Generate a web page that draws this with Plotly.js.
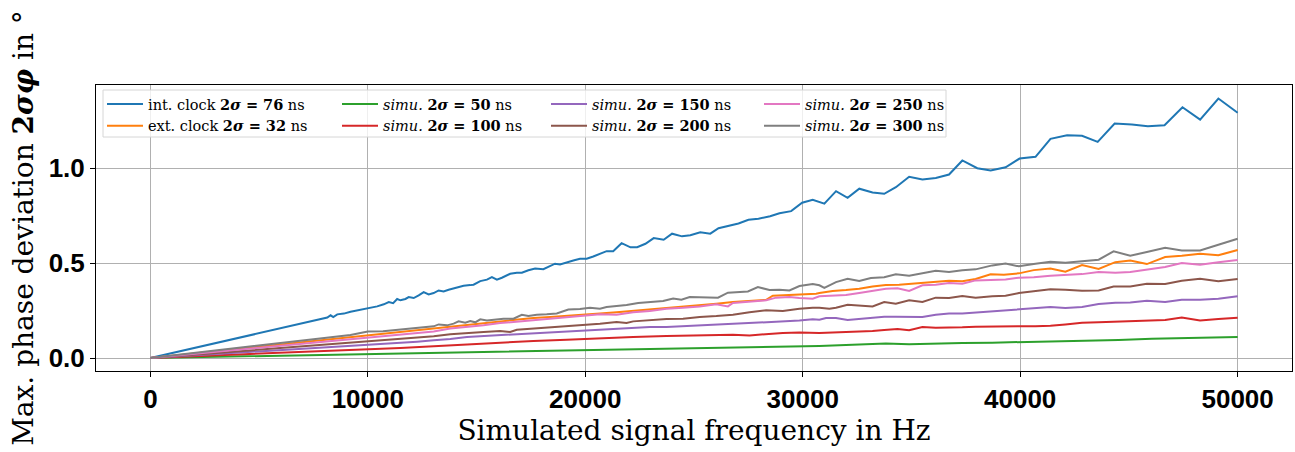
<!DOCTYPE html>
<html>
<head>
<meta charset="utf-8">
<script src="https://cdn.plot.ly/plotly-3.0.1.min.js"></script>
<style>html,body{margin:0;padding:0;background:#fff;}#chart{width:1295px;height:452px;}</style>
</head>
<body>
<div id="chart"></div>
<script>
// ---- data ----
const intClockFreq = [0,1000,2000,3000,4000,5000,6000,
 6761,6991,7220,7679,8138,8289,8411,8596,8899,9206,
 9514,9817,10000,10431,10734,10963,11165,11349,11500,
 11729,11881,12110,12339,12569,12798,13028,13257,13486,13716,
 14023,14404,14711,14862,15170,15477,15706,15936,16165,16546,
 16853,17083,17385,17693,18073,18303,18610,18839,19069,19450,
 19757,20064,20367,20674,20982,21284,21670,22078,22385,22766,
 23147,23606,23991,24450,24830,25289,25748,26128,26587,27046,
 27505,27963,28500,28931,29468,29972,30459,30995,31532,32064,
 32601,33211,33748,34284,34894,35505,36119,36729,37339,38028,
 38642,39330,39972,40706,41394,42156,42844,43564,44344,45138,
 45872,46638,47463,48275,49115,50000];
const intClockVal = [0,0.026,0.052,0.079,0.105,0.131,0.157,
 0.176,0.184,0.188,0.198,0.213,0.225,0.216,0.230,0.234,0.244,
 0.251,0.260,0.265,0.272,0.283,0.295,0.289,0.311,0.304,
 0.311,0.321,0.316,0.330,0.347,0.335,0.342,0.356,0.351,0.360,
 0.368,0.381,0.384,0.386,0.405,0.413,0.426,0.413,0.423,0.444,
 0.449,0.449,0.462,0.472,0.468,0.479,0.497,0.493,0.502,0.514,
 0.523,0.523,0.535,0.551,0.563,0.563,0.605,0.583,0.584,0.602,
 0.632,0.623,0.655,0.641,0.647,0.662,0.655,0.684,0.697,0.709,
 0.728,0.734,0.747,0.763,0.774,0.818,0.834,0.813,0.879,0.844,
 0.892,0.872,0.865,0.900,0.955,0.941,0.949,0.967,1.041,1.000,
 0.988,1.005,1.051,1.060,1.155,1.174,1.171,1.139,1.235,1.230,
 1.221,1.226,1.321,1.256,1.367,1.292];

const extClockFreq = [0,2500,5000,7500,10000,11500,12264,13029,13793,14557,15323,16087,16852,17616,18381,19145,20000,20675,21439,22203,22968,23732,24497,25262,26026,26790,27554,28319,28624,29083,29849,30612,30766,31376,31988,32599,33211,33823,34434,35046,35657,36269,36728,37339,37951,38639,39251,39939,40627,41391,42079,42844,43608,44373,45061,45825,46666,47431,48272,49113,50000];
const extClockVal = [0,0.030,0.060,0.090,0.120,0.137,0.146,0.155,0.163,0.172,0.181,0.190,0.202,0.211,0.216,0.221,0.228,0.234,0.241,0.248,0.255,0.265,0.272,0.277,0.286,0.295,0.300,0.307,0.328,0.330,0.335,0.339,0.342,0.353,0.358,0.365,0.377,0.384,0.386,0.391,0.398,0.402,0.407,0.404,0.416,0.441,0.439,0.446,0.463,0.472,0.455,0.490,0.469,0.505,0.514,0.495,0.532,0.539,0.549,0.541,0.569];

const simu50Freq = [0,5000,10000,11500,14557,17616,20675,23732,26790,30766,32293,33823,34893,35810,37339,38716,39939,41468,42997,44526,46055,47584,49113,50000];
const simu50Val = [0,0.010,0.020,0.023,0.032,0.037,0.044,0.049,0.056,0.063,0.070,0.076,0.072,0.076,0.079,0.081,0.084,0.088,0.090,0.095,0.102,0.105,0.109,0.111];

const simu100Freq = [0,2500,5000,7500,10000,11500,13029,14557,16087,17616,19145,20675,22203,23732,25262,26790,27554,28319,29083,29849,30766,31376,31988,32599,33211,33746,34358,34893,35504,36116,36728,37339,37951,38716,39327,39939,40703,41391,42079,42844,43608,44373,45061,45825,46666,47431,48272,49113,50000];
const simu100Val = [0,0.011,0.023,0.034,0.046,0.053,0.062,0.072,0.081,0.090,0.096,0.104,0.111,0.116,0.119,0.123,0.119,0.125,0.132,0.134,0.132,0.135,0.137,0.141,0.142,0.148,0.153,0.146,0.163,0.160,0.160,0.162,0.165,0.167,0.167,0.167,0.167,0.170,0.177,0.186,0.188,0.191,0.195,0.198,0.200,0.214,0.198,0.205,0.212];

const simu150Freq = [0,2500,5000,7500,10000,11500,12264,13029,13793,14557,15323,16087,16852,17616,18381,19145,20000,20675,21439,22203,22968,23732,24497,25262,26026,26790,27554,28319,29083,29849,30460,30766,31071,31529,32064,32599,33211,33746,34281,34893,35504,36116,36728,37339,37951,38716,39327,39939,40703,41391,42079,42844,43608,44373,45061,45825,46666,47431,48272,49113,50000];
const simu150Val = [0,0.017,0.034,0.052,0.069,0.079,0.086,0.093,0.100,0.111,0.116,0.121,0.125,0.128,0.133,0.140,0.146,0.149,0.155,0.158,0.163,0.163,0.167,0.170,0.174,0.179,0.183,0.188,0.191,0.197,0.204,0.202,0.211,0.211,0.200,0.207,0.211,0.218,0.218,0.218,0.216,0.228,0.234,0.234,0.239,0.248,0.251,0.256,0.265,0.269,0.263,0.269,0.284,0.291,0.293,0.302,0.295,0.307,0.307,0.312,0.325];

const simu200Freq = [0,2500,5000,7500,10000,11500,12264,13029,13793,14557,15323,16087,16546,16852,17616,18381,19145,20000,20675,21439,21898,22203,22968,23732,24497,25262,26026,26790,27554,28319,29083,29849,30460,30766,31224,31529,32064,32599,33211,33746,34281,34893,35504,36116,36728,37339,37951,38716,39327,39939,40703,41391,42079,42844,43608,44296,45061,45825,46666,47431,48272,49113,50000];
const simu200Val = [0,0.022,0.044,0.066,0.089,0.102,0.111,0.114,0.125,0.132,0.137,0.142,0.137,0.149,0.155,0.160,0.167,0.172,0.181,0.190,0.184,0.193,0.198,0.206,0.207,0.216,0.221,0.228,0.241,0.251,0.248,0.260,0.265,0.265,0.260,0.265,0.281,0.277,0.272,0.295,0.286,0.304,0.295,0.318,0.316,0.326,0.318,0.326,0.328,0.342,0.351,0.362,0.360,0.355,0.356,0.377,0.377,0.391,0.390,0.407,0.418,0.404,0.416];

const simu250Freq = [0,2500,5000,7500,10000,11500,12264,13029,13793,14557,15323,16087,16699,17158,17616,18381,19145,20000,20675,21439,22203,22968,23732,24497,25262,26026,26561,26790,27554,28319,28780,29390,29849,30460,30766,31376,31988,32599,33211,33823,34358,34893,35504,36116,36728,37339,37951,38716,39327,39939,40627,41391,42079,42844,43608,44373,45061,45825,46666,47431,48272,49113,50000];
const simu250Val = [0,0.027,0.054,0.082,0.109,0.125,0.133,0.140,0.155,0.163,0.172,0.184,0.190,0.198,0.202,0.209,0.216,0.225,0.230,0.228,0.241,0.248,0.260,0.265,0.272,0.283,0.272,0.290,0.295,0.304,0.318,0.321,0.316,0.312,0.325,0.330,0.332,0.342,0.353,0.365,0.367,0.353,0.383,0.386,0.395,0.391,0.409,0.412,0.414,0.423,0.425,0.434,0.439,0.442,0.453,0.449,0.453,0.465,0.479,0.500,0.491,0.504,0.516];

const simu300Freq = [0,2500,5000,7500,9200,10000,10700,11500,11959,12417,13029,13258,13640,13946,14176,14481,14711,14940,15170,15476,15858,16240,16699,17081,17387,17769,18228,18687,19222,19757,20216,20675,20980,21439,21898,22433,23121,23580,24039,24421,24803,25262,25720,26102,26561,26943,27478,27937,28472,28931,29390,29849,30460,30766,30995,31529,32064,32599,33134,33746,34281,34893,35504,36116,36728,37339,37951,38716,39327,39939,40703,41391,42079,42844,43608,44296,45061,45825,46666,47431,48272,49113,50000];
const simu300Val = [0,0.034,0.067,0.099,0.121,0.139,0.141,0.151,0.156,0.163,0.167,0.177,0.172,0.181,0.193,0.186,0.195,0.188,0.204,0.198,0.204,0.207,0.207,0.228,0.221,0.228,0.230,0.235,0.255,0.258,0.265,0.260,0.269,0.274,0.279,0.290,0.295,0.300,0.314,0.307,0.321,0.321,0.321,0.318,0.344,0.348,0.351,0.374,0.358,0.360,0.356,0.379,0.390,0.383,0.369,0.400,0.418,0.406,0.421,0.426,0.441,0.434,0.449,0.460,0.453,0.462,0.467,0.488,0.498,0.483,0.497,0.507,0.502,0.509,0.518,0.562,0.539,0.558,0.581,0.567,0.567,0.597,0.628];

const seriesNames = [
  'int. clock <b>2<i>σ</i> = 76</b> ns',
  'ext. clock <b>2<i>σ</i> = 32</b> ns',
  '<i>simu.</i> <b>2<i>σ</i> = 50</b> ns',
  '<i>simu.</i> <b>2<i>σ</i> = 100</b> ns',
  '<i>simu.</i> <b>2<i>σ</i> = 150</b> ns',
  '<i>simu.</i> <b>2<i>σ</i> = 200</b> ns',
  '<i>simu.</i> <b>2<i>σ</i> = 250</b> ns',
  '<i>simu.</i> <b>2<i>σ</i> = 300</b> ns'
];
const xTickVals = [0,10000,20000,30000,40000,50000];
const yTickVals = [0.0,0.5,1.0];

// ---- styling ----
const colors = ['#1f77b4','#ff7f0e','#2ca02c','#d62728','#9467bd','#8c564b','#e377c2','#7f7f7f'];
const legendIds = ['legend','legend','legend2','legend2','legend3','legend3','legend4','legend4'];
const xs = [intClockFreq, extClockFreq, simu50Freq, simu100Freq, simu150Freq, simu200Freq, simu250Freq, simu300Freq];
const ys = [intClockVal, extClockVal, simu50Val, simu100Val, simu150Val, simu200Val, simu250Val, simu300Val];

const traces = xs.map((x, i) => ({
  type: 'scatter', mode: 'lines', x: x, y: ys[i], name: seriesNames[i],
  line: {color: colors[i], width: 2}, legend: legendIds[i]
}));

const W = 1295, H = 452, L = 96, R = 3, T = 85, B = 81;
const pw = W - L - R, ph = H - T - B;
const px = v => (v - L) / pw;
const py = v => (H - B - v) / ph;

const legFont = {family: 'DejaVu Serif, serif', size: 14.5, color: '#000'};
function leg(xpix) {
  return {x: px(xpix), y: py(88), xanchor: 'left', yanchor: 'top', orientation: 'v',
    bgcolor: 'rgba(0,0,0,0)', borderwidth: 0, font: legFont, tracegroupgap: 0, itemwidth: 36};
}

const tickFont = {family: 'Liberation Sans, Arial, sans-serif', size: 26, color: '#000', weight: 'bold'};
const titleFont = {family: 'DejaVu Serif, serif', size: 28, color: '#000'};

const layout = {
  width: W, height: H,
  margin: {l: L, r: R, t: T, b: B, pad: 0},
  paper_bgcolor: '#fff', plot_bgcolor: '#fff',
  showlegend: true,
  xaxis: {
    range: [-2500, 52500], tickvals: xTickVals, ticktext: xTickVals.map(v => String(v)),
    showgrid: true, gridcolor: '#b0b0b0', gridwidth: 1, zeroline: false,
    showline: true, mirror: true, linecolor: '#000', linewidth: 1,
    ticks: 'outside', ticklen: 5, tickcolor: '#000', tickfont: tickFont,
    title: {text: 'Simulated signal frequency in Hz', font: titleFont, standoff: 4},
    automargin: false
  },
  yaxis: {
    range: [-0.0685, 1.4385], tickvals: yTickVals, ticktext: yTickVals.map(v => v.toFixed(1)),
    showgrid: true, gridcolor: '#b0b0b0', gridwidth: 1, zeroline: false,
    showline: true, mirror: true, linecolor: '#000', linewidth: 1,
    ticks: 'outside', ticklen: 5, tickcolor: '#000', tickfont: tickFont,
    title: {text: 'Max. phase deviation <b>2<i>σφ</i></b> in °', font: titleFont, standoff: 6},
    automargin: false
  },
  shapes: [{
    type: 'rect', xref: 'paper', yref: 'paper', layer: 'above',
    x0: px(103), x1: px(946), y0: py(137), y1: py(90),
    line: {color: '#d6d6d6', width: 1}, fillcolor: 'rgba(255,255,255,0.8)'
  }],
  legend: leg(102),
  legend2: leg(337),
  legend3: leg(546),
  legend4: leg(759)
};

Plotly.newPlot('chart', traces, layout, {displayModeBar: false, staticPlot: true});
</script>
</body>
</html>
